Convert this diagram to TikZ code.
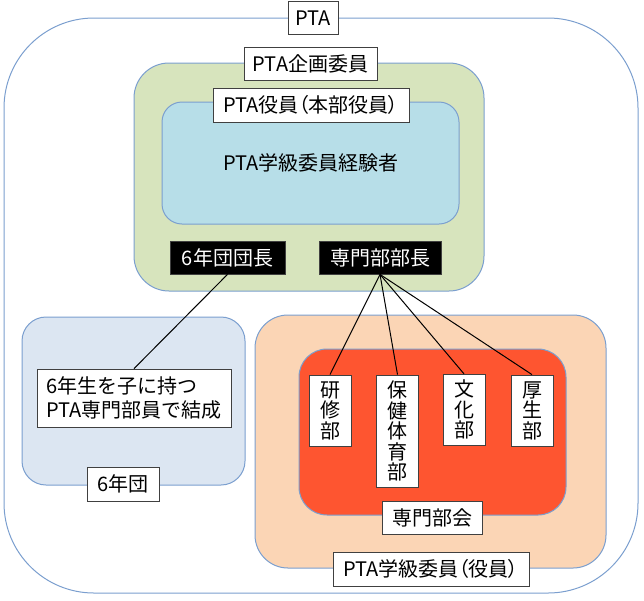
\documentclass[tikz,border=0pt]{standalone}
\usepackage{fontspec}
\setmainfont{Noto Sans CJK JP}
\definecolor{edge}{HTML}{7B9FCF}
\definecolor{greenfill}{HTML}{D7E4BD}
\definecolor{bluefill}{HTML}{B7DEE8}
\definecolor{greyblue}{HTML}{DCE6F2}
\definecolor{peach}{HTML}{FBD5B5}
\definecolor{redfill}{HTML}{FE5530}
\definecolor{labeledge}{HTML}{404040}
\newcommand\hp[1]{{\addfontfeature{RawFeature=+palt}#1}}
\begin{document}
\begin{tikzpicture}[x=1pt,y=-1pt,
  region/.style={draw=edge, line width=1pt},
  lab/.style={draw=labeledge, fill=white, line width=0.8pt, inner sep=0pt, font=\fontsize{20}{24}\selectfont},
  oneline/.style={text height=17pt, text depth=2pt},
  blk/.style={fill=black, draw=black!75, text=white, line width=0.8pt, inner sep=0pt, font=\fontsize{20}{24}\selectfont, text height=17pt, text depth=2pt},
  vbox/.style={draw=labeledge, fill=white, line width=0.8pt, inner sep=0pt, minimum width=42pt, align=center, font=\fontsize{20}{20.5}\selectfont},
  link/.style={draw=black, line width=1pt}]
\useasboundingbox (0,0) rectangle (644,600);
% outer PTA
\draw[region, fill=white, rounded corners=90pt] (4,18) rectangle (638,593);
\node[lab, oneline, minimum width=50pt, minimum height=33pt] (pta) at (313,18) {PTA};
% PTA kikaku
\draw[region, fill=greenfill, rounded corners=35pt] (134,63) rectangle (484,291);
\node[lab, oneline, minimum width=133pt, minimum height=33pt] (kikaku) at (310.5,63.5) {PTA企画委員};
% honbu
\draw[region, fill=bluefill, rounded corners=20pt] (162,102) rectangle (459,224);
\node[lab, oneline, minimum width=196pt, minimum height=34pt] (yakuin) at (311,105) {PTA役員\hp{（}本部役員\hp{）}};
\node[font=\fontsize{20}{24}\selectfont] (keiken) at (311,163) {PTA学級委員経験者};
\node[blk, minimum width=115pt, minimum height=33pt] (dancho) at (227.5,257.5) {6年団団長};
\node[blk, minimum width=122pt, minimum height=33pt] (bucho) at (380,257.5) {専門部部長};
% 6nendan
\draw[region, fill=greyblue, rounded corners=24pt] (22,317) rectangle (245,485);
\node[lab, align=left, minimum width=194pt, minimum height=58pt] (musubi) at (134,398) {6年生を子に持つ\\PTA専門部員で結成};
\node[lab, oneline, minimum width=72pt, minimum height=34pt] (rokunen) at (123,484) {6年団};
% gakkyu iin
\draw[region, fill=peach, rounded corners=33pt] (255,315) rectangle (606,568);
\draw[region, fill=redfill, rounded corners=28pt] (299,349) rectangle (566,515);
\node[vbox, minimum height=71pt] (kenshu) at (330,410.5) {研\\修\\部};
\node[vbox, minimum height=112pt] (hoken) at (397.5,431) {保\\健\\体\\育\\部};
\node[vbox, minimum height=71pt] (bunka) at (464,409.75) {文\\化\\部};
\node[vbox, minimum height=71pt] (kosei) at (532,410.5) {厚\\生\\部};
\node[lab, oneline, minimum width=100pt, minimum height=33pt] (bukai) at (432,517.5) {専門部会};
\node[lab, oneline, minimum width=196pt, minimum height=34pt] (gakkyu) at (431,569) {PTA学級委員\hp{（}役員\hp{）}};
% connectors
\draw[link] (dancho.south) -- (musubi.north);
\draw[link] (bucho.south) -- (kenshu.north);
\draw[link] (bucho.south) -- (hoken.north);
\draw[link] (bucho.south) -- (bunka.north);
\draw[link] (bucho.south) -- (kosei.north);
\end{tikzpicture}
\end{document}
